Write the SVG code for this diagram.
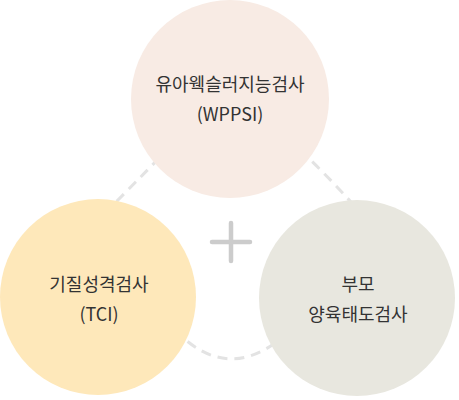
<svg xmlns="http://www.w3.org/2000/svg" width="459" height="400" viewBox="0 0 459 400">
<style>
.dash{fill:none;stroke:#e3e3e3;stroke-width:3;stroke-dasharray:10 7}
.t{font-family:"Noto Sans CJK KR","Noto Sans",sans-serif;font-size:18px;fill:#333;text-anchor:middle}
.plus{stroke:#cccccc;stroke-width:4.5;stroke-linecap:round}
</style>
<rect width="459" height="400" fill="#ffffff"/>
<g id="connectors">
<path class="dash" d="M105,213 Q133,185 165,152"/>
<path class="dash" d="M300,150 Q330,178 358,210"/>
<path class="dash" d="M175,330 Q228,385 285,335"/>
</g>
<g id="plus">
<line class="plus" x1="231" y1="223" x2="231" y2="261"/>
<line class="plus" x1="212" y1="242" x2="250" y2="242"/>
</g>
<g id="node-wppsi">
<circle cx="230" cy="99" r="99" fill="#f8ebe4"/>
<text class="t" x="230" y="91">유아웩슬러지능검사</text>
<text class="t" x="230" y="121">(WPPSI)</text>
</g>
<g id="node-tci">
<circle cx="98" cy="297" r="98" fill="#fee8ba"/>
<text class="t" x="99" y="291">기질성격검사</text>
<text class="t" x="99" y="321">(TCI)</text>
</g>
<g id="node-parent">
<circle cx="357" cy="298" r="98" fill="#e8e7df"/>
<text class="t" x="358" y="291">부모</text>
<text class="t" x="358" y="321">양육태도검사</text>
</g>
</svg>
